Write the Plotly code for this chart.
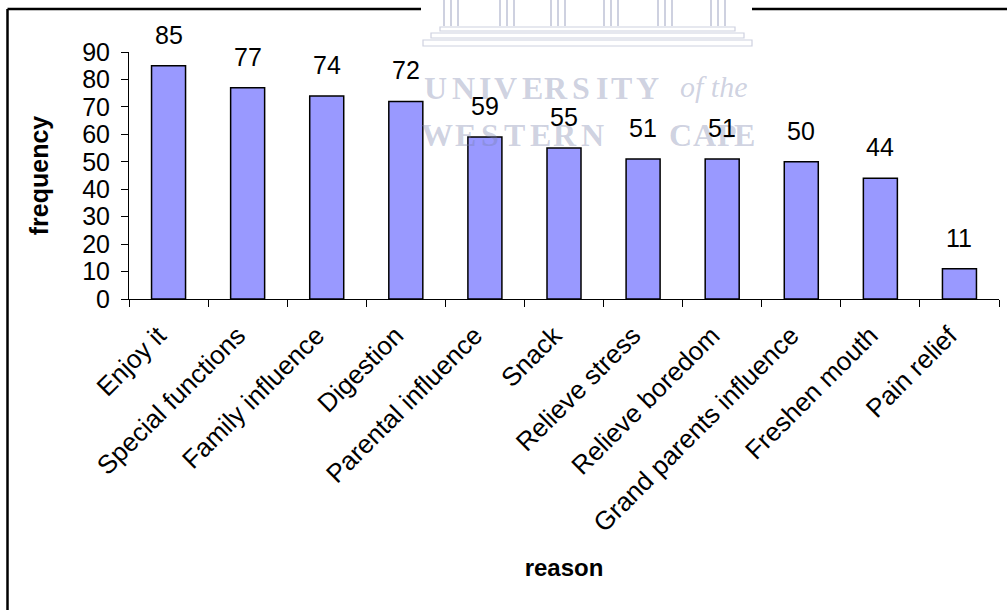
import plotly.graph_objects as go

# Reasons given and how often each was reported
reasons = [
    "Enjoy it", "Special functions", "Family influence", "Digestion",
    "Parental influence", "Snack", "Relieve stress", "Relieve boredom",
    "Grand parents influence", "Freshen mouth", "Pain relief",
]
frequency = [85, 77, 74, 72, 59, 55, 51, 51, 50, 44, 11]
y_ticks = [0, 10, 20, 30, 40, 50, 60, 70, 80, 90]

# widely spaced watermark lettering (letter, centre x in px)
wm_line1 = list(zip("UNIVERSITY", [435, 463, 485, 505, 532, 556, 581, 602, 621, 647]))
wm_line2 = list(zip("WESTERNCAPE", [437, 465, 490, 514, 540, 565, 592, 680, 704, 727, 744]))

FONT = "Arial, Liberation Sans, sans-serif"
SERIF = "Liberation Serif, DejaVu Serif, serif"
WM = "rgba(120,128,170,0.36)"

W, H = 1007, 610
L, R, T, B = 129, 8, 52, 311
pw, ph = W - L - R, H - T - B


def px_x(x):
    return (x - L) / pw


def px_y(y):
    return (H - B - y) / ph


fig = go.Figure(
    go.Bar(
        x=reasons,
        y=frequency,
        width=0.43,
        marker=dict(color="#9999ff", line=dict(color="black", width=1.5)),
        hoverinfo="x+y",
    )
)

annotations = []


def wm_letter(ch, cx, cy, size=32, italic=False):
    text = f"<b>{ch}</b>" if not italic else f"<i>{ch}</i>"
    return dict(text=text, x=px_x(cx), y=px_y(cy), xref="paper", yref="paper",
                xanchor="center", yanchor="middle", showarrow=False,
                font=dict(family=SERIF, size=size, color=WM))


for ch, cx in wm_line1:
    annotations.append(wm_letter(ch, cx, 88))
annotations.append(wm_letter("of the", 714, 86, size=30, italic=True))
for ch, cx in wm_line2:
    annotations.append(wm_letter(ch, cx, 135))

# value labels above each bar
for r, v in zip(reasons, frequency):
    annotations.append(
        dict(x=r, y=v, text=str(v), showarrow=False, yanchor="bottom", yshift=15,
             font=dict(family=FONT, size=25, color="black"))
    )

shapes = []
# outer chart frame
shapes.append(dict(type="line", xref="paper", yref="paper",
                   x0=px_x(7.5), x1=px_x(7.5), y0=px_y(620), y1=px_y(9),
                   line=dict(color="black", width=2.5)))
shapes.append(dict(type="line", xref="paper", yref="paper",
                   x0=px_x(7.5), x1=px_x(1020), y0=px_y(9), y1=px_y(9),
                   line=dict(color="black", width=2.5)))
# watermark building: white backing, steps and column groups
shapes.append(dict(type="rect", xref="paper", yref="paper",
                   x0=px_x(421), x1=px_x(752), y0=px_y(48), y1=px_y(0),
                   fillcolor="white", line=dict(width=0)))
for (x0, x1, y0, y1) in [(440, 735, 27, 31), (431, 744, 33, 38), (423, 752, 40, 46)]:
    shapes.append(dict(type="rect", xref="paper", yref="paper",
                       x0=px_x(x0), x1=px_x(x1), y0=px_y(y1), y1=px_y(y0),
                       fillcolor="rgba(0,0,0,0)", line=dict(color=WM, width=1.2)))
for cx in [451, 507, 558, 611, 665, 718]:
    for dx in (-7, 0, 7):
        shapes.append(dict(type="line", xref="paper", yref="paper",
                           x0=px_x(cx + dx), x1=px_x(cx + dx), y0=px_y(26), y1=px_y(0),
                           line=dict(color=WM, width=2)))

fig.update_layout(
    width=W,
    height=H,
    margin=dict(l=L, r=R, t=T, b=B, autoexpand=False),
    paper_bgcolor="white",
    plot_bgcolor="white",
    showlegend=False,
    font=dict(family=FONT, color="black"),
    annotations=annotations,
    shapes=shapes,
    bargap=0.57,
)

fig.update_xaxes(
    type="category",
    tickangle=-45,
    tickfont=dict(family=FONT, size=26, color="black"),
    ticklabelstandoff=10,
    ticklabelshift=-10,
    showline=True,
    linecolor="black",
    linewidth=1,
    ticks="outside",
    tickson="boundaries",
    ticklen=7,
    tickcolor="black",
    showgrid=False,
    title=dict(text="<b>reason</b>", font=dict(family=FONT, size=24), standoff=22),
)

fig.update_yaxes(
    range=[0, 90],
    tickvals=y_ticks,
    tickfont=dict(family=FONT, size=25, color="black"),
    ticklabelstandoff=6,
    showline=True,
    linecolor="black",
    linewidth=1,
    ticks="outside",
    ticklen=7,
    tickcolor="black",
    showgrid=False,
    zeroline=False,
    title=dict(text="<b>frequency</b>", font=dict(family=FONT, size=25), standoff=26),
)

fig.write_html("out.html")
